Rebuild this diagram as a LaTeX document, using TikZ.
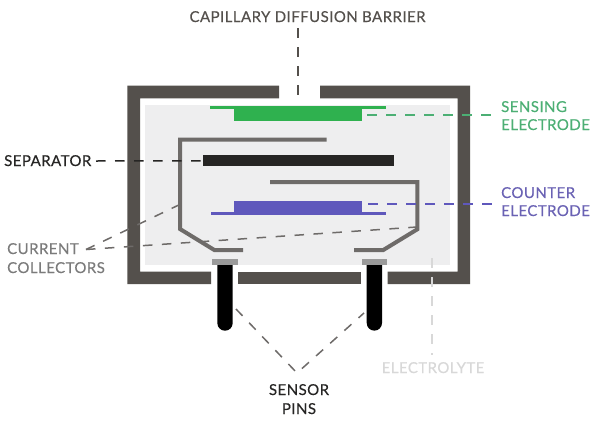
\documentclass[tikz,border=0pt]{standalone}
\usepackage{fontspec}
\setmainfont[LetterSpace=3,FakeBold=0.35]{Lato}
\definecolor{wall}{HTML}{54504C}
\definecolor{fillgrey}{HTML}{EEEEEF}
\definecolor{coll}{HTML}{6E6B69}
\definecolor{sensegreen}{HTML}{2FB14F}
\definecolor{sensetext}{HTML}{4CAF74}
\definecolor{countblue}{HTML}{5F58BC}
\definecolor{counttext}{HTML}{6A62B4}
\definecolor{capgrey}{HTML}{9A9A9A}
\definecolor{sep}{HTML}{262524}
\definecolor{lightline}{HTML}{D8D8D8}
\tikzset{
  lbl/.style={inner sep=0pt,font=\fontsize{15}{18.5}\selectfont,align=left},
  lead/.style={line width=1.5pt,dash pattern=on 9.5pt off 9.5pt},
  collector/.style={draw=coll,line width=4pt,line join=miter},
  solidbar/.style={fill=#1,draw=none},
}
\begin{document}
\begin{tikzpicture}[x=1pt,y=-1pt]
\useasboundingbox[fill=white] (0,0) rectangle (600,426);
% electrolyte
\fill[fillgrey] (145,105) rectangle (450,265);
% walls
\fill[wall] (279,85.7) -- (127.3,85.7) -- (127.3,284) -- (211,284) -- (211,271.7) -- (140,271.7) -- (140,98.3) -- (279,98.3) -- cycle;
\fill[wall] (320,85.7) -- (470,85.7) -- (470,284) -- (387.7,284) -- (387.7,271.7) -- (457.7,271.7) -- (457.7,98.3) -- (320,98.3) -- cycle;
\fill[wall] (237.7,271.7) rectangle (361,284);
% sensing electrode
\fill[sensegreen] (210,105.7) rectangle (385.7,109);
\node[solidbar=sensegreen,minimum width=127.4pt,minimum height=15pt,inner sep=0pt] (sensing) at (298,113.2) {};
% separator
\node[solidbar=sep,minimum width=191.6pt,minimum height=11pt,inner sep=0pt] (separator) at (298.5,160.8) {};
% counter electrode
\fill[countblue] (210.5,212.3) rectangle (385.7,215);
\node[solidbar=countblue,minimum width=127.4pt,minimum height=13.3pt,inner sep=0pt] (counter) at (298,207.4) {};
% collectors
\draw[collector] (326.7,139.7) -- (180,139.7) -- (180,229) -- (214.3,250) -- (243,250);
\draw[collector] (270,182) -- (417.3,182) -- (417.3,229.3) -- (383.3,250) -- (354,250);
% pin caps
\fill[capgrey] (212.3,258.7) rectangle (237.7,265);
\fill[capgrey] (361.7,258.7) rectangle (387.3,265);
% pins
\fill[black] (217.3,265) -- (232.7,265) -- (232.7,323) arc[start angle=0,end angle=180,x radius=7.7pt,y radius=-7.7pt] -- cycle;
\fill[black] (366.7,265) -- (382,265) -- (382,323) arc[start angle=0,end angle=180,x radius=7.65pt,y radius=-7.65pt] -- cycle;
% labels
\node[lbl,text=wall,anchor=base] (capillary) at (307.5,22) {CAPILLARY DIFFUSION BARRIER};
\node[lbl,text=sep,anchor=base west] (separatorlabel) at (4,166) {SEPARATOR};
\node[lbl,text=capgrey!80!black,anchor=base west] (currentlabel) at (7,254) {CURRENT};
\node[lbl,text=capgrey!80!black,anchor=base west] (collectorslabel) at (7,273) {COLLECTORS};
\node[lbl,text=sensetext,anchor=base west] (sensinglabel) at (501,112) {SENSING};
\node[lbl,text=sensetext,anchor=base west] (sensinglabelb) at (501,130) {ELECTRODE};
\node[lbl,text=counttext,anchor=base west] (counterlabel) at (501,198) {COUNTER};
\node[lbl,text=counttext,anchor=base west] (counterlabelb) at (501,216) {ELECTRODE};
\node[lbl,text=sep,anchor=base] (sensorlabel) at (299,395) {SENSOR};
\node[lbl,text=sep,anchor=base] (pinslabel) at (299,414) {PINS};
\node[lbl,text=lightline,anchor=base] (electrolytelabel) at (433,373) {ELECTROLYTE};
% connector ends
\coordinate (capend) at (298,98);
\coordinate (capstart) at (298,28);
\coordinate (sensestart) at (367,115);
\coordinate (sensestop) at (497,115);
\coordinate (countstart) at (368,204);
\coordinate (countstop) at (497,204);
\coordinate (sepstart) at (96,161);
\coordinate (curfork) at (86,249.5);
\coordinate (curtopend) at (185,202);
\coordinate (curlowend) at (417,227);
\coordinate (pinleft) at (236,309);
\coordinate (pinright) at (364,313);
\coordinate (pinapex) at (297,373);
\coordinate (elecstop) at (432,258);
\coordinate (elecstart) at (432,355);
% connectors
\draw[lead,wall] (capstart) -- (capend);
\draw[lead,sensetext] (sensestart) -- (sensestop);
\draw[lead,countblue] (countstart) -- (countstop);
\draw[lead,sep] (sepstart) -- (separator.west);
\draw[lead,coll] (curfork) -- (curtopend);
\draw[lead,coll] (curfork) -- (curlowend);
\draw[lead,coll] (pinleft) -- (pinapex) -- (pinright);
\draw[lead,lightline] (elecstop) -- (elecstart);
\end{tikzpicture}
\end{document}
